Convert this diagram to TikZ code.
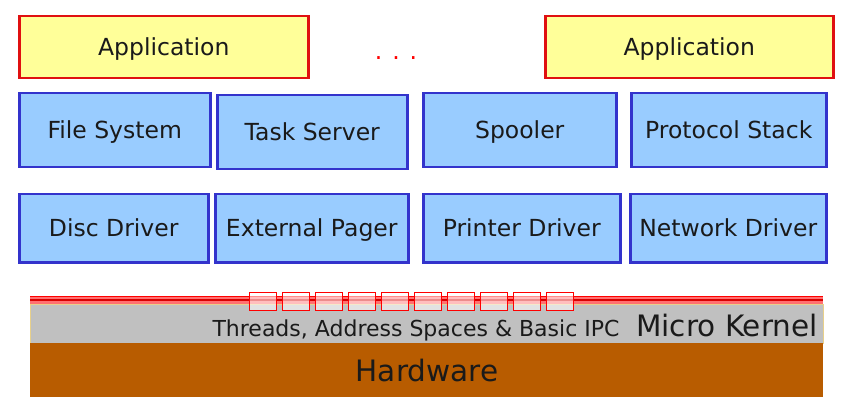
\documentclass[tikz,border=0pt]{standalone}
\usepackage{fontspec}
\setmainfont{DejaVu Sans}
\usepackage{tikz}

\definecolor{appfill}{HTML}{FFFF99}
\definecolor{appline}{HTML}{E01010}
\definecolor{blkfill}{HTML}{99CCFF}
\definecolor{blkline}{HTML}{3333CC}
\definecolor{hwfill}{HTML}{B85C00}
\definecolor{mkfill}{HTML}{C0C0C0}
\definecolor{mkline}{HTML}{E8D08A}
\definecolor{ipcband}{HTML}{FF7070}
\definecolor{txt}{HTML}{1A1A1A}

\tikzset{
  lbl/.style={text=txt, inner sep=0pt, text height=17pt, text depth=0pt,
    font=\fontsize{23.5}{28}\selectfont},
  biglbl/.style={lbl, text height=21.5pt, font=\fontsize{29.5}{34}\selectfont},
  appbox/.style={lbl, draw=appline, fill=appfill, line width=2.5pt,
    anchor=north west, minimum height=62pt},
  blk/.style={lbl, draw=blkline, fill=blkfill, line width=2.5pt,
    anchor=north west},
  ipcbox/.style={draw=red, fill=white, fill opacity=0.55, line width=0.8pt}
}

\begin{document}
\begin{tikzpicture}[x=1pt,y=-1pt]
    \useasboundingbox (0,0) rectangle (852,417);
    \node (app1) [appbox, minimum width=289pt] at (18,15) {Application};
    \node (app2) [appbox, minimum width=288pt] at (544,15) {Application};
    \node (dots) [lbl, text=red] at (396,51) {. . .};
    \node (fs) [blk, minimum width=191pt, minimum height=74pt] at (18,92) {File System};
    \node (ts) [blk, minimum width=190pt, minimum height=74pt] at (216,94) {Task Server};
    \node (spool) [blk, minimum width=193pt, minimum height=74pt] at (422,92) {Spooler};
    \node (pstack) [blk, minimum width=195pt, minimum height=74pt] at (630,92) {Protocol Stack};
    \node (disc) [blk, minimum width=189pt, minimum height=68pt] at (18,193) {Disc Driver};
    \node (pager) [blk, minimum width=193pt, minimum height=68pt] at (214,193) {External Pager};
    \node (prdrv) [blk, minimum width=197pt, minimum height=68pt] at (422,193) {Printer Driver};
    \node (netdrv) [blk, minimum width=196pt, minimum height=68pt] at (629,193) {Network Driver};
    \filldraw [fill=mkfill, draw=mkline, line width=1pt] (30,304) rectangle (823,343);
    \fill [hwfill] (30,343) rectangle (823,397);
    \fill [ipcband] (30,296) rectangle (823,304);
    \draw [red, line width=1pt] (30,296.5) -- (823,296.5);
    \draw [red!85!black, line width=1.2pt] (30,300) -- (823,300);
    \draw [ipcbox] (249,292) rectangle (276,310);
    \draw [ipcbox] (282,292) rectangle (309,310);
    \draw [ipcbox] (315,292) rectangle (342,310);
    \draw [ipcbox] (348,292) rectangle (375,310);
    \draw [ipcbox] (381,292) rectangle (408,310);
    \draw [ipcbox] (414,292) rectangle (441,310);
    \draw [ipcbox] (447,292) rectangle (474,310);
    \draw [ipcbox] (480,292) rectangle (507,310);
    \draw [ipcbox] (513,292) rectangle (540,310);
    \draw [ipcbox] (546,292) rectangle (573,310);
    \node (ipc) [lbl, text height=16pt, font=\fontsize{22}{26}\selectfont] at (416,328.5) {Threads, Address Spaces \& Basic IPC};
    \node (mk) [biglbl] at (727,326) {Micro Kernel};
    \node (hw) [biglbl] at (427,371) {Hardware};
\end{tikzpicture}
\end{document}
